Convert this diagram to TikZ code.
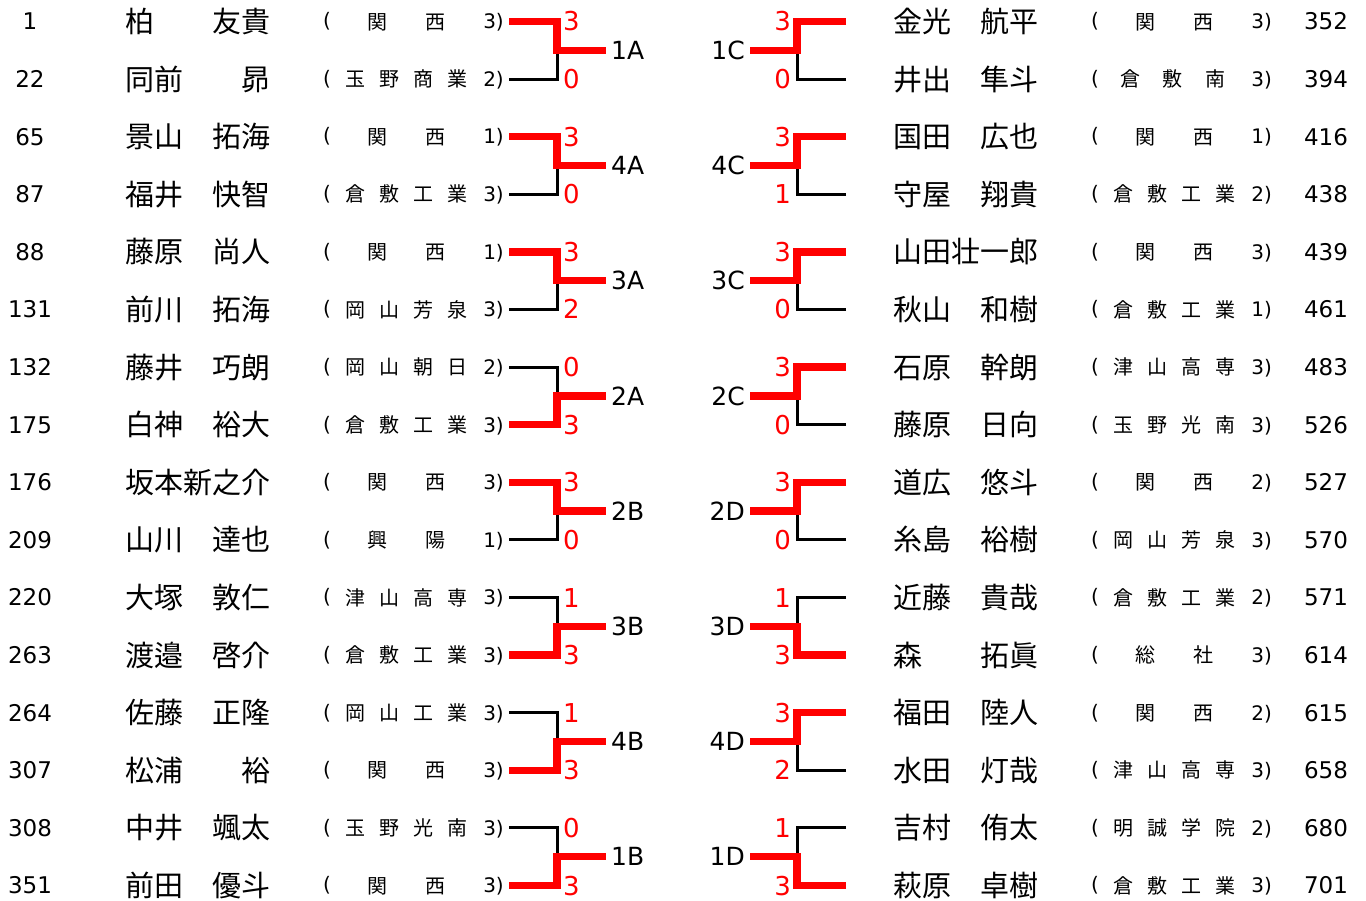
\documentclass[tikz,border=0pt]{standalone}
\usepackage{fontspec}
\setmainfont{DejaVu Sans}
\newfontfamily\jpfont{Noto Sans CJK JP}
\usepackage{tikz}

\tikzset{
  seedtxt/.style={inner sep=0pt, font=\fontsize{23}{23}\selectfont, text height=16.8pt, text depth=0pt},
  nametxt/.style={anchor=west, inner sep=0pt, font=\jpfont\fontsize{29}{29}\selectfont, text height=25.5pt, text depth=3.5pt},
  schtxt/.style={inner sep=0pt, font=\jpfont\fontsize{20}{20}\selectfont, text height=17.6pt, text depth=2.4pt},
  partxt/.style={inner sep=0pt, font=\fontsize{20}{20}\selectfont, text height=15.2pt, text depth=2.6pt},
  grdtxt/.style={anchor=east, inner sep=0pt, font=\fontsize{20}{20}\selectfont, text height=14.6pt, text depth=0pt},
  scoretxt/.style={inner sep=0pt, red, font=\fontsize{26}{26}\selectfont, text height=19pt, text depth=0pt},
  lbltxt/.style={inner sep=0pt, font=\fontsize{25}{25}\selectfont, text height=18.2pt, text depth=0pt},
  win/.style={draw={rgb,255:red,255;green,0;blue,0}, line width=7.5pt, shorten >=5pt},
  lose/.style={draw=black, line width=3pt}
}

% school names, placed char by char
\newcommand{\schB}[2]{%
  \node[schtxt] (s\pid a) at (377+\shx,\rowy) {#1};
  \node[schtxt] (s\pid b) at (435+\shx,\rowy) {#2};}
\newcommand{\schC}[3]{%
  \node[schtxt] (s\pid a) at (362+\shx,\rowy) {#1};
  \node[schtxt] (s\pid b) at (404+\shx,\rowy) {#2};
  \node[schtxt] (s\pid c) at (447+\shx,\rowy) {#3};}
\newcommand{\schD}[4]{%
  \node[schtxt] (s\pid a) at (355+\shx,\rowy) {#1};
  \node[schtxt] (s\pid b) at (389+\shx,\rowy) {#2};
  \node[schtxt] (s\pid c) at (423+\shx,\rowy) {#3};
  \node[schtxt] (s\pid d) at (457+\shx,\rowy) {#4};}

% player rows: seed, row, name, school, grade
\newcommand{\pL}[5]{%
  \def\rowy{21.5+57.6*#2}\def\shx{0}\def\pid{#1}%
  \node[seedtxt] (n#1) at (30,\rowy) {#1};
  \node[nametxt] (m#1) at (125,\rowy) {#3};
  \node[partxt] (o#1) at (327,\rowy) {(};
  #4
  \node[grdtxt] (g#1) at (504,\rowy) {#5)};
  \coordinate (e#1) at (509,\rowy);}
\newcommand{\pR}[5]{%
  \def\rowy{21.5+57.6*#2}\def\shx{768}\def\pid{#1}%
  \node[seedtxt] (n#1) at (1326,\rowy) {#1};
  \node[nametxt] (m#1) at (893,\rowy) {#3};
  \node[partxt] (o#1) at (1095,\rowy) {(};
  #4
  \node[grdtxt] (g#1) at (1272,\rowy) {#5)};
  \coordinate (e#1) at (846,\rowy);}

% matches: label, upper seed, lower seed, upper score, lower score
\newcommand{\mL}[5]{%
  \path (e#2) -- (e#3) coordinate[midway] (h#1);
  \coordinate (j#1) at (557,0 |- h#1);
  \node[lbltxt, anchor=west] (L#1) at (611,0 |- h#1) {#1};
  \node[scoretxt, anchor=west] (c#2) at (563,0 |- e#2) {#4};
  \node[scoretxt, anchor=west] (c#3) at (563,0 |- e#3) {#5};
  \ifnum#4>#5
    \draw[lose] (e#3) -| (j#1);
    \draw[win] (e#2) -| (j#1) -- (L#1.west);
  \else
    \draw[lose] (e#2) -| (j#1);
    \draw[win] (e#3) -| (j#1) -- (L#1.west);
  \fi}
\newcommand{\mR}[5]{%
  \path (e#2) -- (e#3) coordinate[midway] (h#1);
  \coordinate (j#1) at (797,0 |- h#1);
  \node[lbltxt, anchor=east] (L#1) at (745,0 |- h#1) {#1};
  \node[scoretxt, anchor=east] (c#2) at (791,0 |- e#2) {#4};
  \node[scoretxt, anchor=east] (c#3) at (791,0 |- e#3) {#5};
  \ifnum#4>#5
    \draw[lose] (e#3) -| (j#1);
    \draw[win] (e#2) -| (j#1) -- (L#1.east);
  \else
    \draw[lose] (e#2) -| (j#1);
    \draw[win] (e#3) -| (j#1) -- (L#1.east);
  \fi}

\begin{document}
\begin{tikzpicture}[x=1pt,y=1pt,yscale=-1,xscale=1]
\useasboundingbox (0,0) rectangle (1366,901);

% Text Node (left block)
\pL{1}{0}{柏　　友貴}{\schB{関}{西}}{3}
\pL{22}{1}{同前　　昴}{\schD{玉}{野}{商}{業}}{2}
\pL{65}{2}{景山　拓海}{\schB{関}{西}}{1}
\pL{87}{3}{福井　快智}{\schD{倉}{敷}{工}{業}}{3}
\pL{88}{4}{藤原　尚人}{\schB{関}{西}}{1}
\pL{131}{5}{前川　拓海}{\schD{岡}{山}{芳}{泉}}{3}
\pL{132}{6}{藤井　巧朗}{\schD{岡}{山}{朝}{日}}{2}
\pL{175}{7}{白神　裕大}{\schD{倉}{敷}{工}{業}}{3}
\pL{176}{8}{坂本新之介}{\schB{関}{西}}{3}
\pL{209}{9}{山川　達也}{\schB{興}{陽}}{1}
\pL{220}{10}{大塚　敦仁}{\schD{津}{山}{高}{専}}{3}
\pL{263}{11}{渡邉　啓介}{\schD{倉}{敷}{工}{業}}{3}
\pL{264}{12}{佐藤　正隆}{\schD{岡}{山}{工}{業}}{3}
\pL{307}{13}{松浦　　裕}{\schB{関}{西}}{3}
\pL{308}{14}{中井　颯太}{\schD{玉}{野}{光}{南}}{3}
\pL{351}{15}{前田　優斗}{\schB{関}{西}}{3}

% Text Node (right block)
\pR{352}{0}{金光　航平}{\schB{関}{西}}{3}
\pR{394}{1}{井出　隼斗}{\schC{倉}{敷}{南}}{3}
\pR{416}{2}{国田　広也}{\schB{関}{西}}{1}
\pR{438}{3}{守屋　翔貴}{\schD{倉}{敷}{工}{業}}{2}
\pR{439}{4}{山田壮一郎}{\schB{関}{西}}{3}
\pR{461}{5}{秋山　和樹}{\schD{倉}{敷}{工}{業}}{1}
\pR{483}{6}{石原　幹朗}{\schD{津}{山}{高}{専}}{3}
\pR{526}{7}{藤原　日向}{\schD{玉}{野}{光}{南}}{3}
\pR{527}{8}{道広　悠斗}{\schB{関}{西}}{2}
\pR{570}{9}{糸島　裕樹}{\schD{岡}{山}{芳}{泉}}{3}
\pR{571}{10}{近藤　貴哉}{\schD{倉}{敷}{工}{業}}{2}
\pR{614}{11}{森　　拓眞}{\schB{総}{社}}{3}
\pR{615}{12}{福田　陸人}{\schB{関}{西}}{2}
\pR{658}{13}{水田　灯哉}{\schD{津}{山}{高}{専}}{3}
\pR{680}{14}{吉村　侑太}{\schD{明}{誠}{学}{院}}{2}
\pR{701}{15}{萩原　卓樹}{\schD{倉}{敷}{工}{業}}{3}

%Straight Lines (brackets, left)
\mL{1A}{1}{22}{3}{0}
\mL{4A}{65}{87}{3}{0}
\mL{3A}{88}{131}{3}{2}
\mL{2A}{132}{175}{0}{3}
\mL{2B}{176}{209}{3}{0}
\mL{3B}{220}{263}{1}{3}
\mL{4B}{264}{307}{1}{3}
\mL{1B}{308}{351}{0}{3}

%Straight Lines (brackets, right)
\mR{1C}{352}{394}{3}{0}
\mR{4C}{416}{438}{3}{1}
\mR{3C}{439}{461}{3}{0}
\mR{2C}{483}{526}{3}{0}
\mR{2D}{527}{570}{3}{0}
\mR{3D}{571}{614}{1}{3}
\mR{4D}{615}{658}{3}{2}
\mR{1D}{680}{701}{1}{3}

\end{tikzpicture}
\end{document}
